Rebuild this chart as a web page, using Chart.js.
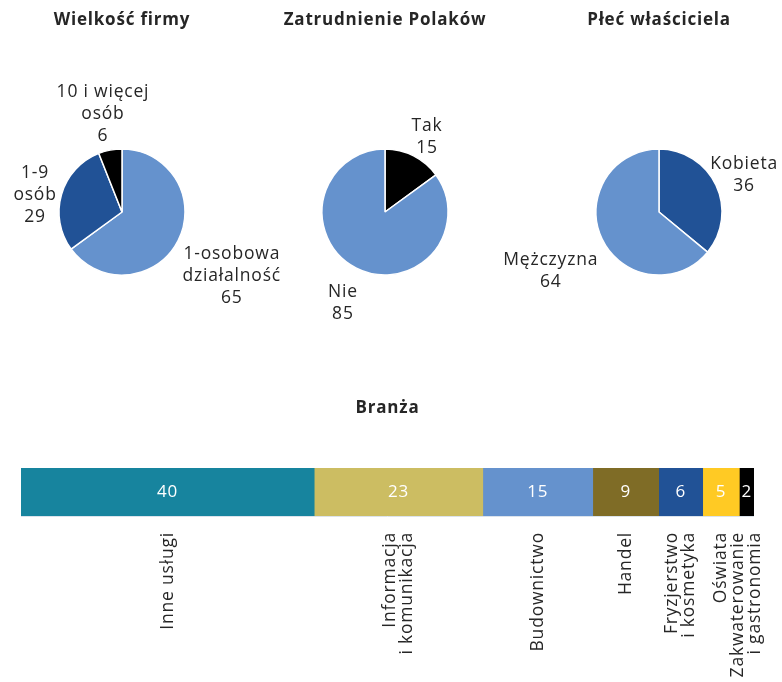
<!DOCTYPE html>
<html>
<head>
<meta charset="utf-8">
<script src="https://cdn.jsdelivr.net/npm/chart.js@4.4.1/dist/chart.umd.min.js"></script>
<style>
  html, body { margin:0; padding:0; background:#fff; }
  body { width:782px; height:682px; position:relative; overflow:hidden; }
  .box { position:absolute; }
</style>
</head>
<body>
<div class="box" style="left:0px;top:0px;width:360px;height:384px;"><canvas id="p1"></canvas></div>
<div class="box" style="left:195px;top:0px;width:380px;height:384px;"><canvas id="p2"></canvas></div>
<div class="box" style="left:480px;top:0px;width:302px;height:384px;"><canvas id="p3"></canvas></div>
<div class="box" style="left:0px;top:388px;width:782px;height:294px;"><canvas id="bar"></canvas></div>
<script>
// ---- data ----
const sizeTitle = 'Wielkość firmy';
const sizeLabels = [['1-osobowa','działalność'], ['1-9','osób'], ['10 i więcej','osób']];
const sizeValues = [65, 29, 6];

const polesTitle = 'Zatrudnienie Polaków';
const polesLabels = [['Tak'], ['Nie']];
const polesValues = [15, 85];

const genderTitle = 'Płeć właściciela';
const genderLabels = [['Kobieta'], ['Mężczyzna']];
const genderValues = [36, 64];

const sectorTitle = 'Branża';
const sectorLabels = [['Inne usługi'], ['Informacja','i komunikacja'], ['Budownictwo'], ['Handel'], ['Fryzjerstwo','i kosmetyka'], ['Oświata'], ['Zakwaterowanie','i gastronomia']];
const sectorValues = [40, 23, 15, 9, 6, 5, 2];

// ---- styles ----
const FONT = "'Open Sans', 'Noto Sans', sans-serif";
const TEXT = '#262626';
const LIGHT = '#6592CD', DARK = '#215296', BLACK = '#000000';
const sizeColors = [LIGHT, DARK, BLACK];
const polesColors = [BLACK, LIGHT];
const genderColors = [DARK, LIGHT];
const sectorColors = ['#17849E', '#CCBD62', '#6592CD', '#7F6C26', '#215296', '#FFCA24', '#000000'];

const spacingPlugin = {
  id: 'spacing',
  beforeDraw(chart) { chart.ctx.letterSpacing = '0.8px'; }
};

const pieLabelPlugin = {
  id: 'pieLabels',
  afterDatasetsDraw(chart) {
    const ctx = chart.ctx;
    const meta = chart.getDatasetMeta(0);
    const labels = chart.data.labels;
    const values = chart.data.datasets[0].data;
    ctx.save();
    ctx.font = '17.5px ' + FONT;
    ctx.letterSpacing = '0.8px';
    ctx.fillStyle = TEXT;
    ctx.textAlign = 'center';
    ctx.textBaseline = 'middle';
    const lh = 22;
    meta.data.forEach((arc, i) => {
      const p = arc.getProps(['x','y','startAngle','endAngle','outerRadius'], true);
      const mid = (p.startAngle + p.endAngle) / 2;
      const dx = Math.cos(mid), dy = Math.sin(mid);
      const lines = labels[i].concat([String(values[i])]);
      const w = Math.max(...lines.map(l => ctx.measureText(l).width));
      const h = lines.length * lh;
      const b = Math.min(Math.abs(dx) > 1e-6 ? (w/2)/Math.abs(dx) : 1e9, Math.abs(dy) > 1e-6 ? (h/2)/Math.abs(dy) : 1e9);
      const d = p.outerRadius + b + 5;
      const shift = 8 * Math.min(1, (1 - Math.abs(dy)) * 10);
      let cx = p.x + dx * d;
      const cy = p.y + dy * d + shift;
      cx = Math.min(cx, chart.width - 4 - w / 2);
      cx = Math.max(cx, 4 + w / 2);
      lines.forEach((l, k) => {
        ctx.fillText(l, cx, cy + (k - (lines.length - 1) / 2) * lh);
      });
    });
    ctx.restore();
  }
};

function makePie(id, title, labels, values, colors, pad) {
  new Chart(document.getElementById(id), {
    type: 'pie',
    data: { labels: labels, datasets: [{ data: values, backgroundColor: colors, borderColor: '#ffffff', borderWidth: 1.5, radius: 63 }] },
    options: {
      responsive: true, maintainAspectRatio: false, animation: false,
      layout: { padding: pad },
      plugins: {
        legend: { display: false },
        tooltip: { enabled: false },
        title: { display: true, text: title, color: TEXT, font: { family: FONT, size: 17, weight: 'bold' }, padding: { top: 10, bottom: 9.6 } }
      }
    },
    plugins: [spacingPlugin, pieLabelPlugin]
  });
}
makePie('p1', sizeTitle, sizeLabels, sizeValues, sizeColors, { left: 0, right: 116, top: 0, bottom: 0 });
makePie('p2', polesTitle, polesLabels, polesValues, polesColors, { left: 0, right: 0, top: 0, bottom: 0 });
makePie('p3', genderTitle, genderLabels, genderValues, genderColors, { left: 56, right: 0, top: 0, bottom: 0 });

const barLabelPlugin = {
  id: 'barLabels',
  afterDatasetsDraw(chart) {
    const ctx = chart.ctx;
    const area = chart.chartArea;
    ctx.save();
    ctx.letterSpacing = '0.8px';
    // faint baseline
    ctx.strokeStyle = '#dbe3ec';
    ctx.lineWidth = 1;
    ctx.beginPath();
    ctx.moveTo(area.left, area.bottom + 0.5);
    ctx.lineTo(area.right, area.bottom + 0.5);
    ctx.stroke();
    chart.data.datasets.forEach((ds, i) => {
      const bar = chart.getDatasetMeta(i).data[0];
      const p = bar.getProps(['x','y','base'], true);
      const xc = (p.x + p.base) / 2;
      // value inside
      ctx.font = '17px ' + FONT;
      ctx.fillStyle = '#ffffff';
      ctx.textAlign = 'center';
      ctx.textBaseline = 'middle';
      ctx.fillText(String(ds.data[0]), xc, p.y);
      // rotated category label
      const lines = sectorLabels[i];
      const lh = 17;
      ctx.save();
      ctx.translate(xc, area.bottom + 16);
      ctx.rotate(-Math.PI / 2);
      ctx.font = '17.5px ' + FONT;
      ctx.fillStyle = TEXT;
      ctx.textAlign = 'right';
      ctx.textBaseline = 'middle';
      lines.forEach((l, k) => {
        ctx.fillText(l, 0, (k - (lines.length - 1) / 2) * lh);
      });
      ctx.restore();
    });
    ctx.restore();
  }
};

new Chart(document.getElementById('bar'), {
  type: 'bar',
  data: {
    labels: [''],
    datasets: sectorLabels.map((l, i) => ({ label: l.join(' '), data: [sectorValues[i]], backgroundColor: sectorColors[i], borderWidth: 0, barPercentage: 1, categoryPercentage: 1 }))
  },
  options: {
    indexAxis: 'y',
    responsive: true, maintainAspectRatio: false, animation: false,
    layout: { padding: { left: 21, right: 28, top: 0, bottom: 166 } },
    scales: {
      x: { display: false, stacked: true, min: 0, max: 100 },
      y: { display: false, stacked: true }
    },
    plugins: {
      legend: { display: false },
      tooltip: { enabled: false },
      title: { display: true, text: sectorTitle, color: TEXT, font: { family: FONT, size: 17, weight: 'bold' }, padding: { top: 10, bottom: 49.6 } }
    }
  },
  plugins: [spacingPlugin, barLabelPlugin]
});
</script>
</body>
</html>
